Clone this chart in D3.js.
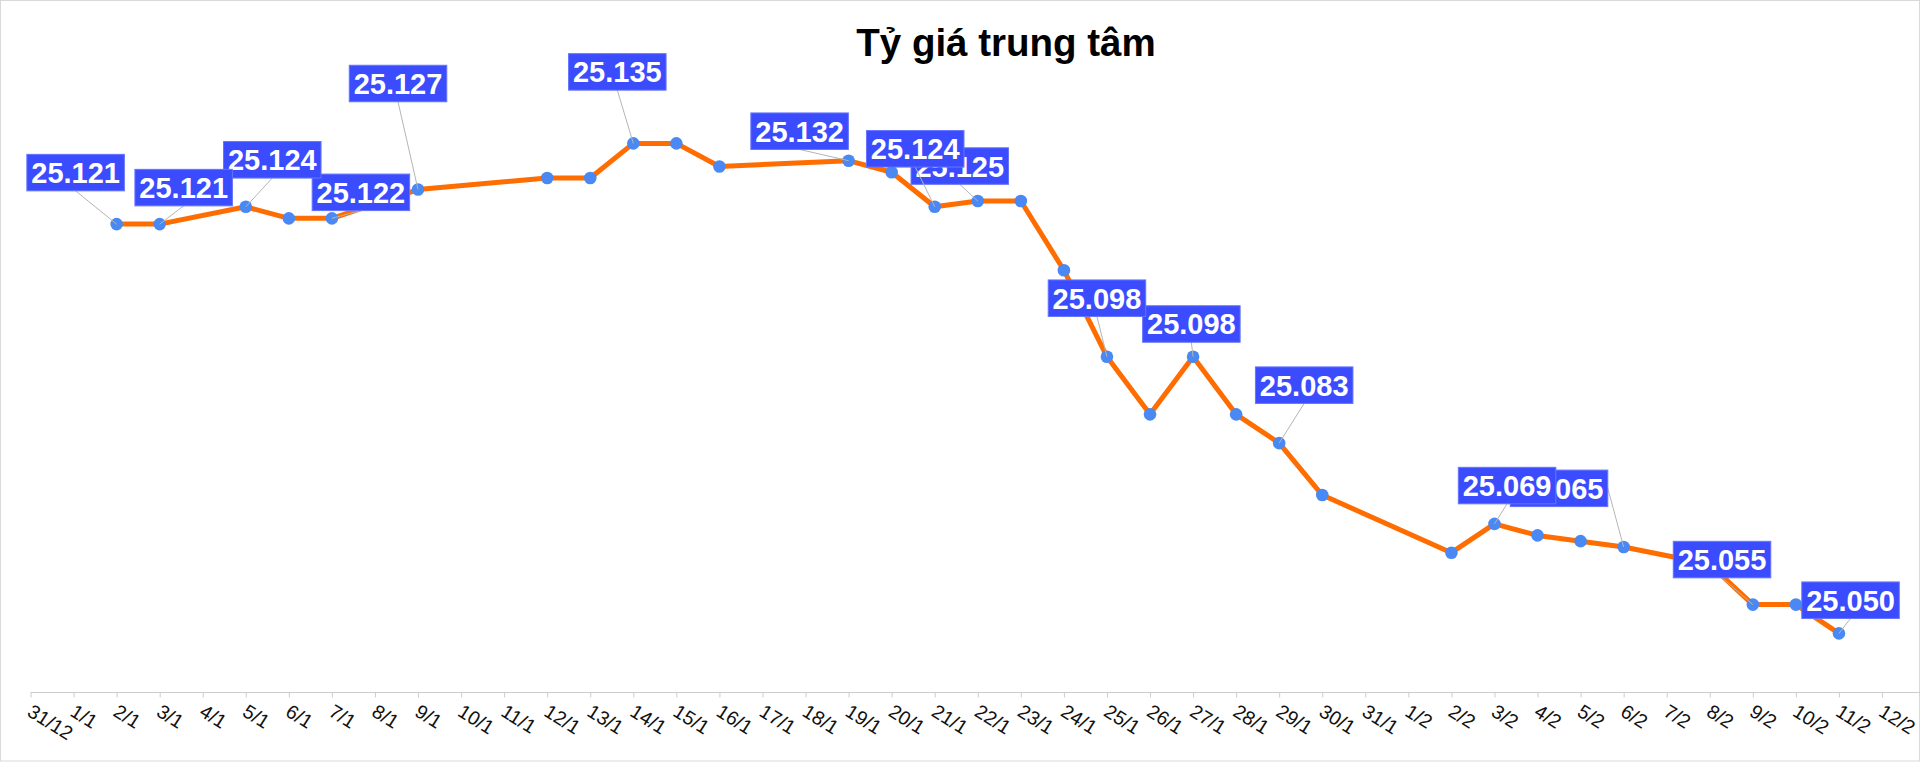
<html>
<script src='https://d3js.org/d3.v7.min.js'></script>

<head>
    <style>
        body { margin: 0; background: #fff; }
        svg { display: block; }
    </style>
</head>

<body onload='init()'>

    <svg width=1920 height=762></svg>

<script>
// dates on the x axis
const dates = ["31/12", "1/1", "2/1", "3/1", "4/1", "5/1", "6/1", "7/1", "8/1", "9/1", "10/1",
    "11/1", "12/1", "13/1", "14/1", "15/1", "16/1", "17/1", "18/1", "19/1", "20/1", "21/1",
    "22/1", "23/1", "24/1", "25/1", "26/1", "27/1", "28/1", "29/1", "30/1", "31/1", "1/2",
    "2/2", "3/2", "4/2", "5/2", "6/2", "7/2", "8/2", "9/2", "10/2", "11/2", "12/2"];

// central rate, null = no value that day
const rates = [null, null, 25.121, 25.121, null, 25.124, 25.122, 25.122, null, 25.127, null,
    null, 25.129, 25.129, 25.135, 25.135, 25.131, null, null, 25.132, 25.130, 25.124,
    25.125, 25.125, 25.113, 25.098, 25.088, 25.098, 25.088, 25.083, 25.074, null, null,
    25.064, 25.069, 25.067, 25.066, 25.065, null, 25.062, 25.055, 25.055, 25.050, null];

// which days get a value label
const labelled = ["2/1", "3/1", "5/1", "7/1", "9/1", "14/1", "19/1", "21/1", "22/1",
    "25/1", "27/1", "29/1", "3/2", "6/2", "9/2", "11/2"];

// where each label box sits relative to its point (layout only)
const labelOffsets = [[-41, -51.5], [24, -36.5], [26.5, -47], [29, -26], [-20, -106],
    [-16, -71.5], [-49, -29.5], [-19.5, -58], [-18, -35], [-10, -58.5], [-1.7, -32.7],
    [25, -58], [12.6, -38.3], [-64.6, -58.6], [-30.8, -45], [11.6, -33.2]];
const leaderSide = ["b", "b", "b", "b", "b", "b", "b", "b", "b", "b", "b", "b", "b", "r", "b", "b"];

function init() {

    const w = 1920;
    const h = 762;
    const axisY = 692;

    var svg = d3.select('svg');

    // outer frame
    svg.append("rect")
        .attr("x", 0.5).attr("y", 0.5)
        .attr("width", w - 1).attr("height", h - 1.5)
        .style("fill", "#fff")
        .style("stroke", "#d9d9d9");

    var xs = d3.scalePoint()
        .domain(dates)
        .range([30.5, 1882]);

    var ys = d3.scaleLinear()
        .domain([25.050, 25.135])
        .range([633.4, 143.4]);

    var data = dates.map(function(d, i) { return {date: d, value: rates[i]}; })
        .filter(function(d) { return d.value != null; });

    // title
    svg.append("text")
        .attr("x", 1006)
        .attr("y", 56)
        .attr("text-anchor", "middle")
        .style("font-family", "'Liberation Sans', Arial, sans-serif")
        .style("font-weight", "bold")
        .style("font-size", "38.5px")
        .style("fill", "#000")
        .text("Tỷ giá trung tâm");

    // x axis
    var xAxis = svg.append("g")
        .attr("transform", "translate(0," + axisY + ")")
        .call(d3.axisBottom(xs).tickSize(5).tickSizeOuter(0));

    xAxis.select(".domain").remove();
    xAxis.append("line")
        .attr("x1", 30.5).attr("x2", w)
        .attr("y1", 0.5).attr("y2", 0.5)
        .style("stroke", "#cccccc");
    xAxis.selectAll(".tick line")
        .attr("transform", "translate(0,0.5)")
        .style("stroke", "#cccccc");
    xAxis.selectAll(".tick text")
        .attr("x", 0).attr("y", 0).attr("dy", 0)
        .attr("text-anchor", "start")
        .attr("transform", "translate(-5,23) rotate(32)")
        .style("font-family", "'Liberation Sans', Arial, sans-serif")
        .style("font-size", "19.5px")
        .style("fill", "#111");

    // line
    var line = d3.line()
        .x(function(d) { return xs(d.date); })
        .y(function(d) { return ys(d.value); });

    svg.append("path")
        .datum(data)
        .attr("d", line)
        .style("fill", "none")
        .style("stroke", "#ff6d01")
        .style("stroke-width", 5)
        .style("stroke-linejoin", "round");

    svg.selectAll(".dot")
        .data(data)
        .enter()
        .append("circle")
        .attr("class", "dot")
        .attr("cx", function(d) { return xs(d.date); })
        .attr("cy", function(d) { return ys(d.value); })
        .attr("r", 6.3)
        .style("fill", "#4a89f3");

    // value labels, drawn last-first so earlier ones sit on top
    var bw = 97.5, bh = 36.5;
    var labels = labelled.map(function(d, i) {
        var v = rates[dates.indexOf(d)];
        var px = xs(d), py = ys(v);
        var cx = px + labelOffsets[i][0], cy = py + labelOffsets[i][1];
        var ax = cx, ay = cy + bh / 2;
        if (leaderSide[i] == "r") { ax = cx + bw / 2; ay = cy; }
        return {px: px, py: py, cx: cx, cy: cy, ax: ax, ay: ay, text: d3.format(".3f")(v)};
    }).reverse();

    var lab = svg.selectAll(".lab")
        .data(labels)
        .enter()
        .append("g")
        .attr("class", "lab");

    lab.append("line")
        .attr("x1", function(d) { return d.ax; })
        .attr("y1", function(d) { return d.ay; })
        .attr("x2", function(d) { return d.px; })
        .attr("y2", function(d) { return d.py; })
        .style("stroke", "#b5b5b5")
        .style("stroke-width", 1);

    lab.append("rect")
        .attr("x", function(d) { return d.cx - bw / 2; })
        .attr("y", function(d) { return d.cy - bh / 2; })
        .attr("width", bw)
        .attr("height", bh)
        .style("fill", "#3b4cff")
        .style("stroke", "#6474ff")
        .style("stroke-width", 1);

    lab.append("text")
        .attr("x", function(d) { return d.cx; })
        .attr("y", function(d) { return d.cy + 10.5; })
        .attr("text-anchor", "middle")
        .style("font-family", "'Liberation Sans', Arial, sans-serif")
        .style("font-weight", "bold")
        .style("font-size", "29px")
        .style("fill", "#fff")
        .text(function(d) { return d.text; });
}
</script>
</body>
</html>
